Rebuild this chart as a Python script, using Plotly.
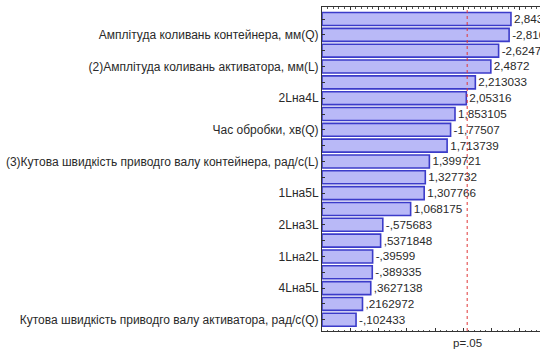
import plotly.graph_objects as go

# Standardized effect estimates, sorted by absolute value (top to bottom)
effects = [2.843188, -2.810426, -2.624712, 2.4872, 2.213033, 2.05316, 1.853105,
           -1.77507, 1.713739, 1.399721, 1.327732, 1.307766, 1.068175,
           -0.575683, 0.5371848, -0.39599, -0.389335, 0.3627138, 0.2162972,
           -0.102433]

# Axis labels are shown for every second effect
label_rows = [1, 3, 5, 7, 9, 11, 13, 15, 17, 19]
label_text = [
    "Амплітуда коливань контейнера, мм(Q)",
    "(2)Амплітуда коливань активатора, мм(L)",
    "2Lна4L",
    "Час обробки, хв(Q)",
    "(3)Кутова швидкість приводго валу контейнера, рад/с(L)",
    "1Lна5L",
    "2Lна3L",
    "1Lна2L",
    "4Lна5L",
    "Кутова швидкість приводго валу активатора, рад/с(Q)",
]

t_crit = 2.0687          # critical value at p = .05
x_min, x_max = -0.5, 3.357


def stat_fmt(v):
    s = format(v, ".7g").replace(".", ",")
    return s.replace("0,", ",", 1) if s.startswith(("0,", "-0,")) else s


rows = list(range(len(effects)))
mag = [abs(v) for v in effects]

fig = go.Figure()
fig.add_trace(go.Bar(
    orientation="h",
    y=rows,
    base=[x_min] * len(mag),
    x=[m - x_min for m in mag],
    width=0.82,
    marker=dict(color="#b9b9f7", line=dict(color="#3b3bc9", width=1.6)),
    text=[stat_fmt(v) for v in effects],
    textposition="outside",
    textfont=dict(family="Liberation Sans, Arial", size=13.5, color="#2a2a2a"),
    cliponaxis=False,
    hoverinfo="skip",
))

fig.add_shape(type="line", xref="x", yref="paper", x0=t_crit, x1=t_crit, y0=0, y1=1,
              line=dict(color="#e03838", width=1, dash="dot"))
fig.add_annotation(x=t_crit, xref="x", y=-0.012, yref="paper", yanchor="top",
                   text="p=.05", showarrow=False,
                   font=dict(family="Liberation Sans, Arial", size=11.5, color="#2a2a2a"))

fig.update_layout(
    width=540, height=349,
    margin=dict(l=322, r=0, t=7, b=18),
    paper_bgcolor="white", plot_bgcolor="white",
    showlegend=False,
    font=dict(family="Liberation Sans, Arial", size=12, color="#2a2a2a"),
    uniformtext=dict(mode=False),
)
fig.update_xaxes(
    range=[x_min, x_max], showgrid=False, zeroline=False,
    showline=True, linecolor="#333", linewidth=1, mirror="ticks",
    ticks="inside", ticklen=3, tickcolor="#333", dtick=0.5, tick0=x_min,
    showticklabels=False,
    minor=dict(ticks="inside", ticklen=1.5, dtick=0.1, tickcolor="#555"),
)
fig.update_yaxes(
    range=[len(effects) - 0.29, -0.76], showgrid=False, zeroline=False,
    showline=True, linecolor="#333", linewidth=1,
    tickmode="array", tickvals=label_rows, ticktext=label_text,
    ticks="inside", ticklen=3, tickcolor="#333",
    minor=dict(ticks="inside", ticklen=3, tickvals=rows, tickcolor="#333"),
    tickfont=dict(size=12, color="#2a2a2a"),
)

fig.write_html("out.html")
